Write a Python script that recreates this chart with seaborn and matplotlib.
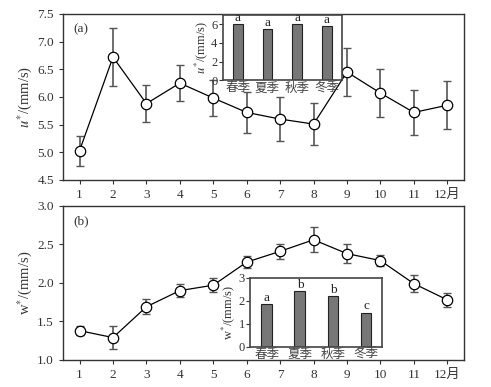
import numpy as np
import pandas as pd
import matplotlib
matplotlib.use("Agg")
import matplotlib.pyplot as plt
import seaborn as sns

sns.set_theme(style="ticks")
plt.rcParams['font.family'] = ['Liberation Serif', 'Noto Sans CJK SC', 'DejaVu Sans']
plt.rcParams['mathtext.fontset'] = 'stix'

# monthly data
months = list(range(1, 13))
month_labels = ['1', '2', '3', '4', '5', '6', '7', '8', '9', '10', '11', '12月']
u_mean = [5.03, 6.72, 5.88, 6.25, 5.98, 5.72, 5.60, 5.51, 6.45, 6.07, 5.72, 5.85]
u_err = [0.27, 0.52, 0.34, 0.33, 0.33, 0.37, 0.39, 0.38, 0.43, 0.43, 0.41, 0.43]
w_mean = [1.38, 1.29, 1.69, 1.90, 1.97, 2.27, 2.41, 2.56, 2.38, 2.29, 1.99, 1.78]
w_err = [0.06, 0.15, 0.10, 0.08, 0.09, 0.08, 0.10, 0.16, 0.12, 0.07, 0.11, 0.09]

# seasonal data
seasons = ['春季', '夏季', '秋季', '冬季']
u_season = [6.0, 5.52, 6.05, 5.8]
u_letters = ['a', 'a', 'a', 'a']
w_season = [1.86, 2.42, 2.20, 1.48]
w_letters = ['a', 'b', 'b', 'c']

fig = plt.figure(figsize=(4.91, 3.87), dpi=100)
ax1 = fig.add_axes([0.128, 0.535, 0.817, 0.429])
ax2 = fig.add_axes([0.128, 0.070, 0.817, 0.398])


def monthly(ax, mean, err, ylim, yticks, ylabel, tag):
    df = pd.DataFrame({'month': months, 'val': mean})
    ax.errorbar(months, mean, yerr=err, fmt='none', ecolor='#555555',
                elinewidth=1.2, capsize=3, capthick=1.0, zorder=2)
    sns.lineplot(data=df, x='month', y='val', ax=ax, color='black', lw=0.9,
                 marker='o', markersize=7.5, markerfacecolor='white',
                 markeredgecolor='black', markeredgewidth=0.9, zorder=3)
    ax.set_xlim(0.5, 12.5)
    ax.set_ylim(*ylim)
    ax.set_yticks(yticks)
    ax.set_yticklabels([f'{t:.1f}' for t in yticks])
    ax.set_xticks(months)
    ax.set_xticklabels(month_labels)
    ax.set_xlabel('')
    ax.set_ylabel(ylabel, fontsize=10.5, color='#333333', labelpad=2)
    ax.tick_params(labelsize=9.5, length=3, width=0.8, colors='#333333', direction='out')
    for s in ax.spines.values():
        s.set_linewidth(1.0)
        s.set_color('#333333')
    ax.text(0.027, 0.91 if tag == '(a)' else 0.90, tag, transform=ax.transAxes,
            fontsize=9.5, va='center', ha='left', color='#333333')


monthly(ax1, u_mean, u_err, (4.5, 7.5), [4.5, 5.0, 5.5, 6.0, 6.5, 7.0, 7.5],
        r'$u^{*}$/(mm/s)', '(a)')
monthly(ax2, w_mean, w_err, (1.0, 3.0), [1.0, 1.5, 2.0, 2.5, 3.0],
        r'w$^{*}$/(mm/s)', '(b)')


def inset(rect, vals, letters, ylim, yticks, ylabel):
    ax = fig.add_axes(rect, zorder=5)
    ax.set_facecolor('white')
    df = pd.DataFrame({'season': seasons, 'val': vals})
    sns.barplot(data=df, x='season', y='val', ax=ax, color='#777777',
                edgecolor='#222222', linewidth=0.8, width=0.33, saturation=1)
    for i, (v, l) in enumerate(zip(vals, letters)):
        ax.text(i, v + (ylim[1] - ylim[0]) * 0.005, l, ha='center', va='bottom',
                fontsize=9.5, color='#222222')
    ax.set_xlim(-0.5, 3.5)
    ax.set_ylim(*ylim)
    ax.set_yticks(yticks)
    ax.set_xlabel('')
    ax.set_ylabel(ylabel, fontsize=9, color='#333333', labelpad=1)
    ax.tick_params(axis='y', labelsize=9, length=3, width=0.8, pad=1, colors='#333333')
    ax.tick_params(axis='x', labelsize=9, length=0, pad=1, colors='#444444')
    for lab in ax.get_xticklabels():
        lab.set_fontfamily(['Noto Sans CJK SC', 'DejaVu Sans'])
    for s in ax.spines.values():
        s.set_linewidth(1.2)
        s.set_color('#444444')
    return ax


inset([0.454, 0.793, 0.242, 0.168], u_season, u_letters, (0, 7), [0, 2, 4, 6],
      r'$u^{*}$/(mm/s)')
inset([0.510, 0.104, 0.269, 0.178], w_season, w_letters, (0, 3), [0, 1, 2, 3],
      r'w$^{*}$/(mm/s)')

fig.savefig('out.png', dpi=100)
